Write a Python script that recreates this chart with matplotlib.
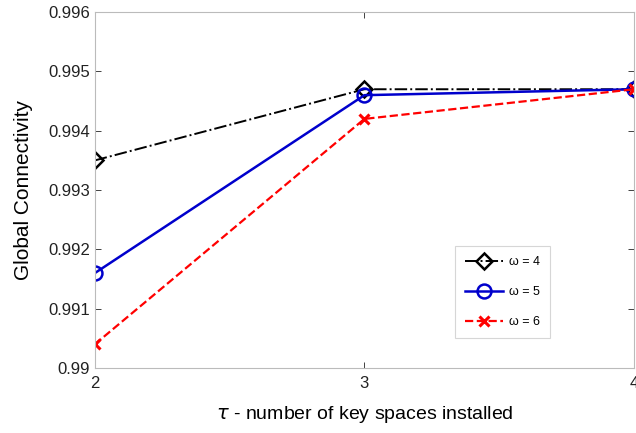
import matplotlib.pyplot as plt

plt.rcParams["font.family"] = ["Liberation Sans", "DejaVu Sans"]

# Data
tau = [2, 3, 4]
conn_w4 = [0.9935, 0.9947, 0.9947]
conn_w5 = [0.9916, 0.9946, 0.9947]
conn_w6 = [0.9904, 0.9942, 0.9947]
labels = ["ω = 4", "ω = 5", "ω = 6"]

fig = plt.figure(figsize=(6.36, 4.33), dpi=100)
ax = fig.add_axes([0.149, 0.150, 0.848, 0.822])

ax.plot(tau, conn_w4, color="black", linestyle="-.", marker="D", markersize=8,
        markerfacecolor="none", markeredgewidth=1.8, linewidth=1.4, label=labels[0])
ax.plot(tau, conn_w5, color="#0000cc", linestyle="-", marker="o", markersize=10,
        markerfacecolor="none", markeredgewidth=1.8, linewidth=1.8, label=labels[1])
ax.plot(tau, conn_w6, color="red", linestyle="--", marker="x", markersize=7,
        markeredgewidth=2.2, linewidth=1.6, label=labels[2])

ax.set_xlim(2, 4)
ax.set_ylim(0.990, 0.996)
ax.set_xticks([2, 3, 4])
ax.set_yticks([0.990, 0.991, 0.992, 0.993, 0.994, 0.995, 0.996])
ax.set_yticklabels(["0.99", "0.991", "0.992", "0.993", "0.994", "0.995", "0.996"])
ax.tick_params(direction="in", top=True, right=True, labelsize=12, colors="#222222",
               length=4, width=0.6)
ax.tick_params(axis="x", pad=6)
for s in ax.spines.values():
    s.set_color("#bbbbbb")
    s.set_linewidth(0.8)

ax.set_xlabel(r"$\tau$ - number of key spaces installed", fontsize=14, labelpad=9)
ax.set_ylabel("Global Connectivity", fontsize=15, labelpad=11)

leg = ax.legend(loc="upper left", bbox_to_anchor=(0.668, 0.343), borderaxespad=0,
                fontsize=9, fancybox=False, edgecolor="#cccccc", handlelength=3.0,
                labelspacing=1.45, borderpad=0.8, handletextpad=0.5)
leg.get_frame().set_linewidth(0.8)

fig.savefig("out.png", dpi=100)
